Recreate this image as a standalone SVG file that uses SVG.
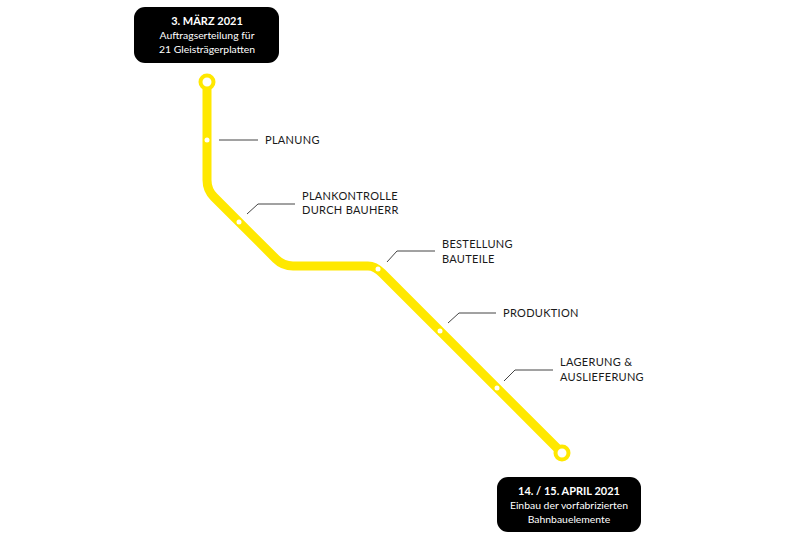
<svg xmlns="http://www.w3.org/2000/svg" width="800" height="550" viewBox="0 0 800 550">
<style>
.box{fill:#000}
.bt{font-family:Lato,"Open Sans",sans-serif;font-size:10.4px;fill:#fff;text-anchor:middle}
.bh{font-weight:bold;font-size:11px}
.lbl{font-family:Lato,"Open Sans",sans-serif;font-size:11px;fill:#1a1a1a;letter-spacing:0.3px}
.lead{fill:none;stroke:#444;stroke-width:1}
.track{fill:none;stroke:#FFE800;stroke-width:9;stroke-linejoin:round}
.end{fill:#fff;stroke:#FFE800;stroke-width:4}
.dot{fill:#fff}
</style>
<rect width="800" height="550" fill="#fff"/>
<g id="connectors">
<path class="track" d="M207,82 V180 Q207,190 214,197 L276,259 Q283,266 293,266 H368 Q375,266 382,273 L562,453"/>
<path class="lead" d="M219,140 H258"/>
<path class="lead" d="M247,214 L258,204 H295"/>
<path class="lead" d="M387,262 L397,251 H435"/>
<path class="lead" d="M448,323 L459,313 H496"/>
<path class="lead" d="M504,381 L515,370 H553"/>
</g>
<g id="start">
<rect class="box" x="134" y="7" width="145" height="56" rx="11"/>
<text class="bt bh" x="207" y="25">3. MÄRZ 2021</text>
<text class="bt" x="207" y="39">Auftragserteilung für</text>
<text class="bt" x="207" y="53">21 Gleisträgerplatten</text>
<circle class="end" cx="207" cy="82" r="6.5"/>
</g>
<g id="planung">
<circle class="dot" cx="207" cy="140" r="2.5"/>
<text class="lbl" x="265" y="144">PLANUNG</text>
</g>
<g id="plankontrolle">
<circle class="dot" cx="239" cy="222" r="2.5"/>
<text class="lbl" x="302" y="200">PLANKONTROLLE</text>
<text class="lbl" x="302" y="214">DURCH BAUHERR</text>
</g>
<g id="bestellung">
<circle class="dot" cx="378" cy="269" r="2.5"/>
<text class="lbl" x="442" y="248">BESTELLUNG</text>
<text class="lbl" x="442" y="263">BAUTEILE</text>
</g>
<g id="produktion">
<circle class="dot" cx="440" cy="331" r="2.5"/>
<text class="lbl" x="503" y="317">PRODUKTION</text>
</g>
<g id="lagerung">
<circle class="dot" cx="497" cy="388" r="2.5"/>
<text class="lbl" x="560" y="366">LAGERUNG &amp;</text>
<text class="lbl" x="560" y="381">AUSLIEFERUNG</text>
</g>
<g id="end">
<circle class="end" cx="562" cy="453" r="6.5"/>
<rect class="box" x="497" y="477" width="144" height="55" rx="11"/>
<text class="bt bh" x="569" y="495">14. / 15. APRIL 2021</text>
<text class="bt" x="569" y="509">Einbau der vorfabrizierten</text>
<text class="bt" x="569" y="523">Bahnbauelemente</text>
</g>
</svg>
